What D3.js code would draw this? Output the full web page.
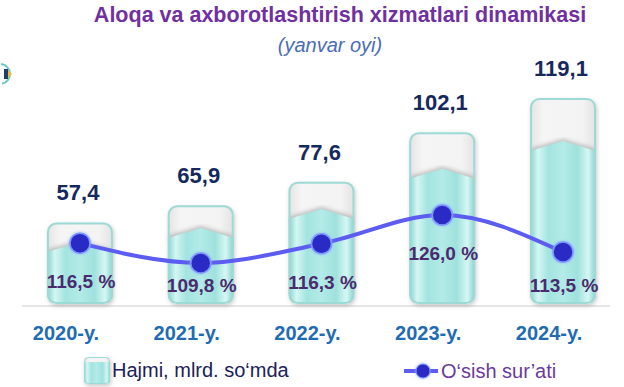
<!DOCTYPE html>
<html lang="uz">
<head>
    <meta charset="UTF-8">
    <title>Aloqa va axborotlashtirish xizmatlari dinamikasi</title>
    <script src="https://d3js.org/d3.v7.min.js"></script>
    <style>
        body { margin: 0; background: #fff; }
        svg { font-family: Arial, "Liberation Sans", sans-serif; }
        .title { font-size: 21.5px; font-weight: bold; fill: #7030a0; text-anchor: middle; }
        .subtitle { font-size: 20px; font-style: italic; fill: #4a6cb8; text-anchor: middle; }
        .value-label { font-size: 22px; font-weight: bold; fill: #16295c; text-anchor: middle; }
        .pct-label { font-size: 19px; font-weight: bold; fill: #4a2c6e; text-anchor: middle; }
        .cat-label { font-size: 20px; font-weight: bold; fill: #1f6cb3; text-anchor: middle; }
        .legend { font-size: 20px; }
    </style>
</head>
<body>
<div id="chart"></div>
<script>
    const years = ["2020-y.", "2021-y.", "2022-y.", "2023-y.", "2024-y."];
    const volume = [57.4, 65.9, 77.6, 102.1, 119.1];      // Hajmi, mlrd. so'mda
    const growth = [116.5, 109.8, 116.3, 126.0, 113.5];   // O'sish sur'ati, %

    const width = 624, height = 387;
    const fmt = v => v.toFixed(1).replace(".", ",");

    const svg = d3.select("#chart")
        .append("svg")
        .attr("width", width)
        .attr("height", height);

    const defs = svg.append("defs");

    const teal = defs.append("linearGradient")
        .attr("id", "teal")
        .attr("x1", "0%").attr("x2", "100%").attr("y1", "0%").attr("y2", "0%");
    [["0%", "#86d3ce"], ["12%", "#d4f6f3"], ["28%", "#a3e4e0"], ["50%", "#b3ebe8"],
     ["72%", "#9fe1dd"], ["88%", "#d6f7f4"], ["100%", "#83d0cb"]].forEach(s => {
        teal.append("stop").attr("offset", s[0]).attr("stop-color", s[1]);
    });

    const grey = defs.append("linearGradient")
        .attr("id", "grey")
        .attr("x1", "0%").attr("x2", "100%").attr("y1", "0%").attr("y2", "0%");
    [["0%", "#e4e4e4"], ["20%", "#f5f5f5"], ["80%", "#f3f3f3"], ["100%", "#e2e2e2"]].forEach(s => {
        grey.append("stop").attr("offset", s[0]).attr("stop-color", s[1]);
    });

    const shadow = defs.append("filter").attr("id", "shadow")
        .attr("x", "-20%").attr("y", "-20%").attr("width", "140%").attr("height", "140%");
    shadow.append("feDropShadow")
        .attr("dx", 1).attr("dy", 2).attr("stdDeviation", 2)
        .attr("flood-color", "#888").attr("flood-opacity", 0.45);

    const blur = defs.append("filter").attr("id", "blur");
    blur.append("feGaussianBlur").attr("stdDeviation", 2);

    const dotGlow = defs.append("filter").attr("id", "dotglow")
        .attr("x", "-50%").attr("y", "-50%").attr("width", "200%").attr("height", "200%");
    dotGlow.append("feDropShadow")
        .attr("dx", 0).attr("dy", 0).attr("stdDeviation", 1.5)
        .attr("flood-color", "#7fa0ff").attr("flood-opacity", 0.8);

    // Scales
    const x = d3.scaleBand()
        .domain(years)
        .range([47, 596])
        .paddingInner(0.454)
        .paddingOuter(0);

    const baseY = 304;
    const yBar = d3.scaleLinear()
        .domain([17, 125])
        .range([baseY, 86]);

    const yLine = d3.scaleLinear()
        .domain([100, 135])
        .range([292, 188.4]);

    const cx = d => x(d) + x.bandwidth() / 2;

    // Title
    svg.append("text").attr("class", "title")
        .attr("x", 340).attr("y", 22)
        .text("Aloqa va axborotlashtirish xizmatlari dinamikasi");
    svg.append("text").attr("class", "subtitle")
        .attr("x", 330).attr("y", 52)
        .text("(yanvar oyi)");

    // small logo fragment at the left edge
    svg.append("path")
        .attr("d", d3.arc()({ innerRadius: 9, outerRadius: 11, startAngle: 0.1, endAngle: Math.PI - 0.2 }))
        .attr("transform", "translate(0,74)")
        .attr("fill", "#6cc6c0");
    svg.append("rect").attr("x", 4).attr("y", 69).attr("width", 4).attr("height", 10).attr("fill", "#1c3f6e");
    svg.append("path").attr("d", "M8,70 L12,74 L8,78 Z").attr("fill", "#f0b63c");

    // Baseline
    svg.append("line")
        .attr("x1", 22).attr("x2", 610)
        .attr("y1", baseY + 2).attr("y2", baseY + 2)
        .attr("stroke", "#dcdcdc").attr("stroke-width", 1.5);

    // Bars
    const bars = svg.append("g")
        .selectAll("g")
        .data(years)
        .join("g");

    bars.each(function(d, i) {
        const g = d3.select(this);
        const x0 = x(d), w = x.bandwidth();
        const top = yBar(volume[i]);
        const h = baseY - top;
        const cap = 14 + 0.19 * h;
        const side = top + cap;
        const apex = side - 10;

        g.append("clipPath").attr("id", "clip" + i)
            .append("rect")
            .attr("x", x0).attr("y", top)
            .attr("width", w).attr("height", h)
            .attr("rx", 9);

        g.append("rect")
            .attr("x", x0).attr("y", top)
            .attr("width", w).attr("height", h)
            .attr("rx", 9)
            .attr("fill", "url(#grey)")
            .attr("filter", "url(#shadow)");

        const inner = g.append("g").attr("clip-path", `url(#clip${i})`);

        inner.append("path")
            .attr("d", `M${x0},${side - 2} L${x0 + w / 2},${apex - 2} L${x0 + w},${side - 2} L${x0 + w},${side + 6} L${x0},${side + 6} Z`)
            .attr("fill", "#9a9a9a")
            .attr("opacity", 0.6)
            .attr("filter", "url(#blur)");

        inner.append("path")
            .attr("d", `M${x0},${side} L${x0 + w / 2},${apex} L${x0 + w},${side} L${x0 + w},${baseY} L${x0},${baseY} Z`)
            .attr("fill", "url(#teal)");

        g.append("rect")
            .attr("x", x0 + 1).attr("y", top + 1)
            .attr("width", w - 2).attr("height", h - 2)
            .attr("rx", 8.5)
            .attr("fill", "none")
            .attr("stroke", "#9ddad5")
            .attr("stroke-width", 2);
    });

    // Value labels above bars
    svg.append("g")
        .selectAll("text")
        .data(years)
        .join("text")
        .attr("class", "value-label")
        .attr("x", d => cx(d) - 2)
        .attr("y", (d, i) => yBar(volume[i]) - 22)
        .text((d, i) => fmt(volume[i]));

    // Growth line
    const line = d3.line()
        .x(d => cx(d))
        .y((d, i) => yLine(growth[i]))
        .curve(d3.curveMonotoneX);

    svg.append("path")
        .datum(years)
        .attr("d", line)
        .attr("fill", "none")
        .attr("stroke", "#5c5cf0")
        .attr("stroke-width", 4);

    svg.append("g")
        .selectAll("circle")
        .data(years)
        .join("circle")
        .attr("cx", d => cx(d))
        .attr("cy", (d, i) => yLine(growth[i]))
        .attr("r", 10)
        .attr("fill", "#2a2ac4")
        .attr("stroke", "#7f95ff")
        .attr("stroke-width", 1.5)
        .attr("filter", "url(#dotglow)");

    svg.append("g")
        .selectAll("text")
        .data(years)
        .join("text")
        .attr("class", "pct-label")
        .attr("x", d => cx(d) + 1)
        .attr("y", (d, i) => Math.min(yLine(growth[i]) + 45, 292))
        .text((d, i) => fmt(growth[i]) + " %");

    // Category labels
    svg.append("g")
        .selectAll("text")
        .data(years)
        .join("text")
        .attr("class", "cat-label")
        .attr("x", d => cx(d) - 14)
        .attr("y", 340)
        .text(d => d);

    // Legend
    const leg = svg.append("g").attr("class", "legend");

    leg.append("clipPath").attr("id", "legclip")
        .append("rect").attr("x", 84).attr("y", 357).attr("width", 26).attr("height", 27).attr("rx", 4);
    leg.append("rect")
        .attr("x", 84).attr("y", 357).attr("width", 26).attr("height", 27).attr("rx", 4)
        .attr("fill", "url(#grey)").attr("filter", "url(#shadow)");
    leg.append("rect")
        .attr("x", 84).attr("y", 362).attr("width", 26).attr("height", 22)
        .attr("clip-path", "url(#legclip)")
        .attr("fill", "url(#teal)");
    leg.append("rect")
        .attr("x", 84.5).attr("y", 357.5).attr("width", 25).attr("height", 26).attr("rx", 4)
        .attr("fill", "none").attr("stroke", "#9ddad5").attr("stroke-width", 1);
    leg.append("text")
        .attr("x", 112).attr("y", 377)
        .attr("fill", "#1b2159")
        .text("Hajmi, mlrd. so\u2018mda");

    leg.append("line")
        .attr("x1", 404).attr("x2", 438).attr("y1", 371).attr("y2", 371)
        .attr("stroke", "#5c5cf0").attr("stroke-width", 4);
    leg.append("circle")
        .attr("cx", 423).attr("cy", 371).attr("r", 7)
        .attr("fill", "#2a2ac4").attr("stroke", "#7f95ff").attr("stroke-width", 1)
        .attr("filter", "url(#dotglow)");
    leg.append("text")
        .attr("x", 441).attr("y", 378)
        .attr("fill", "#6a3a9c")
        .text("O\u2018sish sur\u2019ati");
</script>
</body>
</html>
